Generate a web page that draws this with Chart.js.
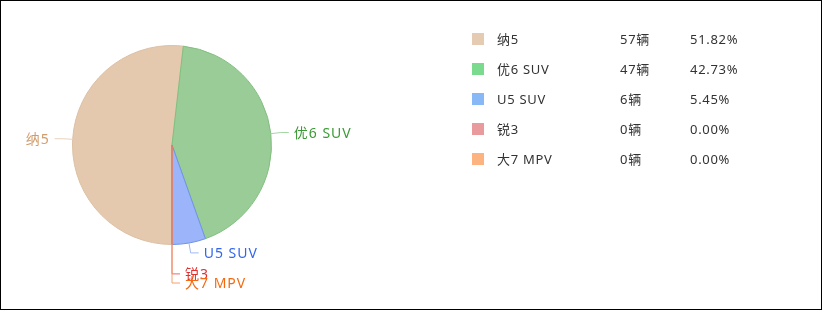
<!DOCTYPE html>
<html>
<head>
<meta charset="utf-8">
<script src="https://cdn.jsdelivr.net/npm/chart.js@4/dist/chart.umd.min.js"></script>
<style>
  html, body { margin: 0; padding: 0; background: #fff; }
  #box {
    position: relative; width: 822px; height: 310px; box-sizing: border-box;
    border: 1px solid #000; font-family: "Noto Sans", "Noto Sans CJK SC", sans-serif;
  }
  #pieWrap { position: absolute; left: 0; top: 0; width: 400px; height: 308px; }
  #legend { position: absolute; left: 0; top: 23px; width: 820px; }
  .row { position: relative; height: 30px; line-height: 30px; font-size: 13px; color: #333; letter-spacing: 0.7px; }
  .row span { position: absolute; top: 0; }
  .row .sq { left: 471px; top: 9px; width: 12px; height: 12px; }
</style>
</head>
<body>
<div id="box">
  <div id="pieWrap"><canvas id="pie"></canvas></div>
  <div id="legend"></div>
</div>
<script>
// 车型销量
const models = ['纳5', '优6 SUV', 'U5 SUV', '锐3', '大7 MPV'];
const counts = [57, 47, 6, 0, 0];

const sliceColors = ['#e4c9af', '#9acc98', '#9bb4fa', '#e99a9c', '#fdb380'];
const sliceBorders = ['#dcc0a4', '#80bf7e', '#6f93e6', '#e06060', '#f58a4a'];
const legendColors = ['#e4cbb2', '#7adb8e', '#88b8f5', '#e99a9c', '#fdb380'];
const labelColors = ['#d09c6c', '#3a9a35', '#3366ee', '#e03030', '#f56a10'];
const lineColors = ['#e8d2bd', '#a6d6a4', '#a0b8f5', '#e86a6a', '#f5a070'];

const total = counts.reduce((a, b) => a + b, 0);

// 右侧图例
const legend = document.getElementById('legend');
models.forEach((m, i) => {
  const row = document.createElement('div');
  row.className = 'row';
  const pct = total ? (counts[i] / total * 100).toFixed(2) : '0.00';
  row.innerHTML =
    `<span class="sq" style="background:${legendColors[i]}"></span>` +
    `<span style="left:496px">${m}</span>` +
    `<span style="left:619px">${counts[i]}辆</span>` +
    `<span style="left:689px">${pct}%</span>`;
  legend.appendChild(row);
});

// 外部标签 + 引导线
const outLabels = {
  id: 'outLabels',
  afterDatasetsDraw(chart) {
    const ctx = chart.ctx;
    const arcs = chart.getDatasetMeta(0).data;
    const len1 = 10, len2 = 8, gap = 21;
    const maxY = chart.height - 26;
    const items = arcs.map((a, i) => {
      const mid = (a.startAngle + a.endAngle) / 2;
      const cos = Math.cos(mid), sin = Math.sin(mid);
      return {
        i, a, cos,
        x0: a.x + cos * a.outerRadius, y0: a.y + sin * a.outerRadius,
        x1: a.x + cos * (a.outerRadius + len1), y1: a.y + sin * (a.outerRadius + len1),
        dir: cos >= 0 ? 1 : -1
      };
    });
    // 同侧标签避让
    [1, -1].forEach(side => {
      const list = items.filter(it => it.dir === side).sort((p, q) => p.y1 - q.y1);
      let prev = -Infinity;
      list.forEach(it => {
        it.ly = Math.min(Math.max(it.y1, prev + gap), maxY);
        prev = it.ly;
      });
    });

    ctx.save();
    items.forEach(it => {
      // 零值扇区画一条半径线
      if (it.a.endAngle === it.a.startAngle) {
        ctx.strokeStyle = sliceBorders[it.i];
        ctx.lineWidth = 1;
        ctx.beginPath();
        ctx.moveTo(it.a.x, it.a.y);
        ctx.lineTo(it.x0, it.y0);
        ctx.stroke();
      }
      const x2 = it.x1 + it.dir * len2;
      ctx.strokeStyle = lineColors[it.i];
      ctx.lineWidth = 1;
      ctx.beginPath();
      ctx.moveTo(it.x0, it.y0);
      ctx.lineTo(it.x1, it.ly);
      ctx.lineTo(x2, it.ly);
      ctx.stroke();

      ctx.fillStyle = labelColors[it.i];
      ctx.font = '14px "Noto Sans", "Noto Sans CJK SC", sans-serif';
      ctx.letterSpacing = '1px';
      ctx.textBaseline = 'middle';
      ctx.textAlign = it.dir > 0 ? 'left' : 'right';
      ctx.fillText(models[it.i], x2 + it.dir * 5, it.ly + 1);
    });
    ctx.restore();
  }
};

new Chart(document.getElementById('pie'), {
  type: 'pie',
  data: {
    labels: models,
    datasets: [{
      data: counts,
      backgroundColor: sliceColors,
      borderColor: sliceBorders,
      borderWidth: 1
    }]
  },
  options: {
    responsive: true,
    maintainAspectRatio: false,
    animation: false,
    rotation: 180,
    layout: { padding: { left: 71, right: 129, top: 44, bottom: 64 } },
    plugins: { legend: { display: false }, tooltip: { enabled: false } },
    events: []
  },
  plugins: [outLabels]
});
</script>
</body>
</html>
